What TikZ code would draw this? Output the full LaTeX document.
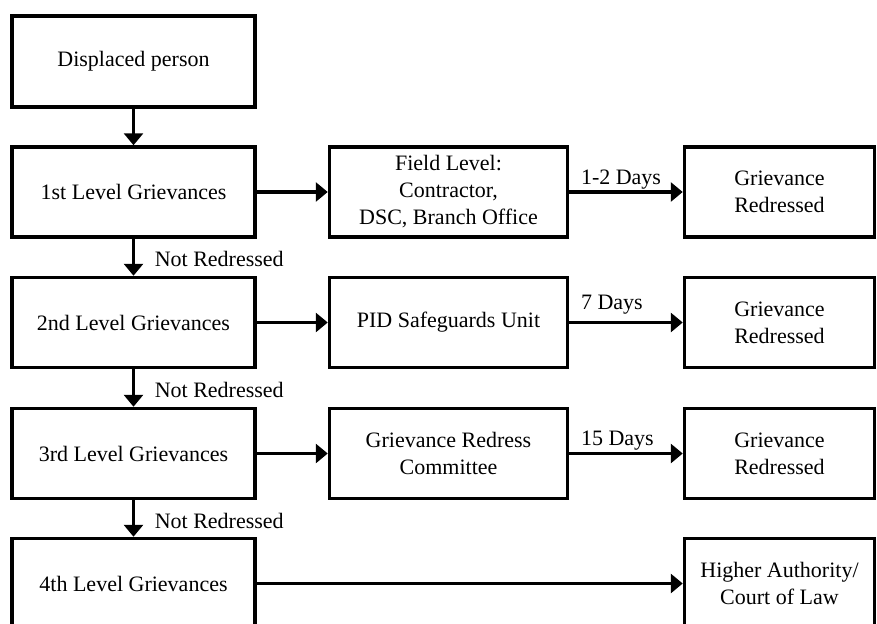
\documentclass[tikz,border=0pt]{standalone}
\usepackage{fontspec}
\setmainfont{Liberation Serif}
\usetikzlibrary{arrows.meta}
\begin{document}
\begin{tikzpicture}[x=1pt,y=-1pt,
  box/.style={draw, line width=3.5pt, inner sep=0pt, align=center,
    font=\fontsize{22}{27}\selectfont},
  lvlbox/.style={box, minimum width=243pt, minimum height=90pt},
  midbox/.style={box, minimum width=238pt, minimum height=90pt},
  endbox/.style={box, minimum width=190pt, minimum height=90pt},
  arr/.style={line width=3.5pt, -{Triangle[length=12pt,width=19pt]}},
  nrlabel/.style={anchor=base west, inner sep=0pt, xshift=19.5pt, yshift=-9.5pt,
    font=\fontsize{22}{27}\selectfont},
  daylabel/.style={pos=0, anchor=base west, inner sep=0pt, xshift=10pt,
    font=\fontsize{22}{27}\selectfont}]
\useasboundingbox (0,0) rectangle (877,623);
\clip (0,0) rectangle (877,623);

% left column: the person and the four grievance levels
\node[lvlbox, minimum height=91pt] (dp) at (133.5,61.5) {Displaced person};
\node[lvlbox] (g1) at (133.5,192) {1st Level Grievances};
\node[lvlbox] (g2) at (133.5,322.5) {2nd Level Grievances};
\node[lvlbox] (g3) at (133.5,453.5) {3rd Level Grievances};
\node[lvlbox] (g4) at (133.5,583.5) {4th Level Grievances};

% middle column: handling bodies
\node[midbox] (m1) at (448.5,192) {Field Level:\\Contractor,\\DSC, Branch Office};
\node[midbox] (m2) at (448.5,322.5) {PID Safeguards Unit};
\node[midbox] (m3) at (448.5,453.5) {Grievance Redress\\Committee};

% right column: outcomes
\node[endbox] (r1) at (779.5,192) {Grievance\\Redressed};
\node[endbox] (r2) at (779.5,322.5) {Grievance\\Redressed};
\node[endbox] (r3) at (779.5,453.5) {Grievance\\Redressed};
\node[endbox] (r4) at (779.5,583.5) {Higher Authority/\\Court of Law};

% escalation down the levels
\draw[arr] (dp) -- (g1);
\draw[arr] (g1) -- node[nrlabel] {Not Redressed} (g2);
\draw[arr] (g2) -- node[nrlabel] {Not Redressed} (g3);
\draw[arr] (g3) -- node[nrlabel] {Not Redressed} (g4);

% each level to its handling body
\draw[arr] (g1) -- (m1);
\draw[arr] (g2) -- (m2);
\draw[arr] (g3) -- (m3);
\draw[arr] (g4) -- (r4);

% handling body to outcome, with time limits
\draw[arr] (m1) -- node[daylabel, yshift=8pt] {1-2 Days} (r1);
\draw[arr] (m2) -- node[daylabel, yshift=13pt] {7 Days} (r2);
\draw[arr] (m3) -- node[daylabel, yshift=8pt] {15 Days} (r3);
\end{tikzpicture}
\end{document}
